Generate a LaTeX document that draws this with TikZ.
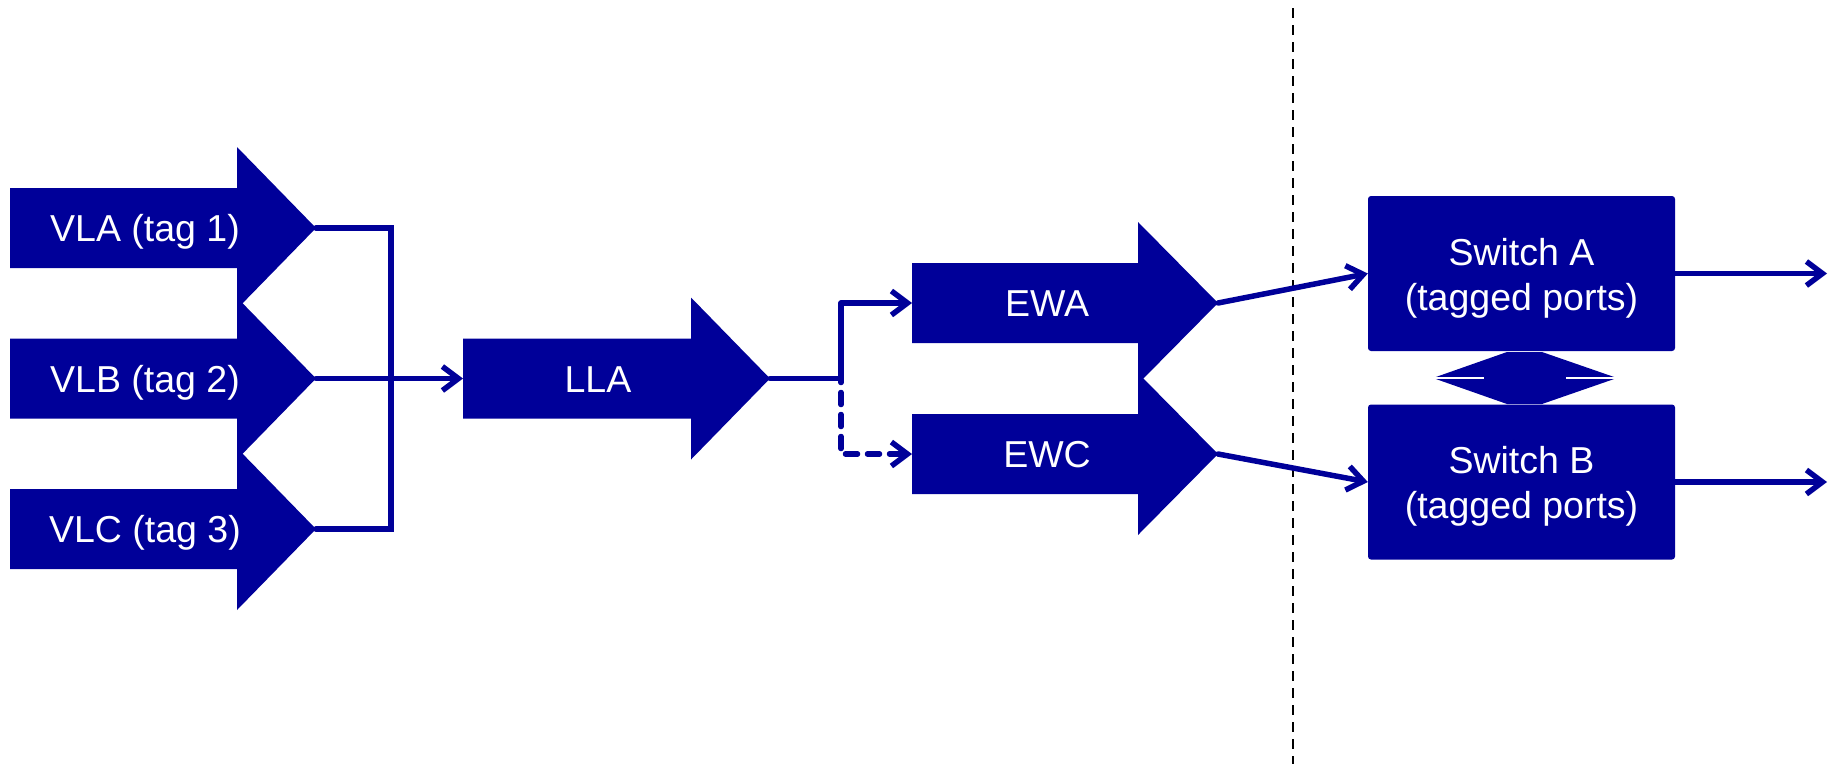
\documentclass[tikz,border=0pt]{standalone}
\usepackage{fontspec}
\setmainfont{Liberation Sans}
\usetikzlibrary{arrows.meta}
\definecolor{navy}{HTML}{000099}
\newcommand\fatarrow[6]{% name, left, head base, tip, centre y, text
  \fill[fat] (#2,#5-40) -- (#3,#5-40) -- (#3,#5-81) -- (#4,#5) -- (#3,#5+81) -- (#3,#5+40) -- (#2,#5+40) -- cycle;
  \node[lbl,anchor=base] (#1) at (#2+135,#5+13.5) {#6};
  \coordinate (#1-tip) at (#4,#5);
  \coordinate (#1-in) at (#2,#5);
}
\begin{document}
\begin{tikzpicture}[x=1pt,y=-1pt,
  fat/.style={fill=navy},
  lbl/.style={text=white,font=\fontsize{37.5}{45}\selectfont,inner sep=0pt},
  conn/.style={draw=navy,line width=5.5pt,line cap=round,line join=round},
  tipped/.style={conn,-{Straight Barb[length=16pt,width=24pt]}},
  switchbox/.style={fill=navy,rounded corners=3pt,minimum width=307pt,minimum height=155pt,inner sep=0pt},
  swlbl/.style={lbl,align=center},
  sep/.style={draw=black,line width=2.6pt,dash pattern=on 9.5pt off 7.5pt}
]
\useasboundingbox (0,0) rectangle (1833,764);

% fat arrows
\fatarrow{vla}{10}{237}{316}{228}{VLA (tag 1)}
\fatarrow{vlb}{10}{237}{316}{378.5}{VLB (tag 2)}
\fatarrow{vlc}{10}{237}{316}{529}{VLC (tag 3)}
\fatarrow{lla}{463}{691}{770}{378.5}{LLA}
\fatarrow{ewa}{912}{1138}{1218}{303}{EWA}
\fatarrow{ewc}{912}{1138}{1218}{454}{EWC}

% switches
\node[switchbox] (swA) at (1521.5,273.5) {};
\node[switchbox] (swB) at (1521.5,482) {};
\node[swlbl] (swAt) at (1521.5,277.8) {Switch A\\(tagged ports)};
\node[swlbl] (swBt) at (1521.5,486.3) {Switch B\\(tagged ports)};

% double arrow between switches
\fill[fat] (1433,378) -- (1507,352) -- (1542,352) -- (1617,378) -- (1542,404) -- (1507,404) -- cycle;
\draw[white,line width=1.5pt] (1433,378) -- (1484,378);
\draw[white,line width=1.5pt] (1566,378) -- (1617,378);

% separator
\coordinate (sepTop) at (1293,8);
\coordinate (sepBot) at (1293,764);
\draw[sep] (sepTop) -- (sepBot);

% connectors
\draw[conn,line join=miter] (vla-tip) -- (391,228) |- (vlc-tip);
\draw[tipped] (vlb-tip) -- (lla-in);

\coordinate (split) at (841,378.5);
\draw[conn] (lla-tip) -- (split);
\draw[tipped] (split) |- (ewa-in);
\draw[tipped,dash pattern=on 12pt off 10pt,dash phase=-14pt] (split) |- (ewc-in);

\draw[tipped] (ewa-tip) -- (swA.west);
\draw[tipped] (ewc-tip) -- (swB.west);

\coordinate (outA) at (1827,273.5);
\coordinate (outB) at (1827,482);
\draw[tipped] (swA.east) -- (outA);
\draw[tipped] (swB.east) -- (outB);
\end{tikzpicture}
\end{document}
